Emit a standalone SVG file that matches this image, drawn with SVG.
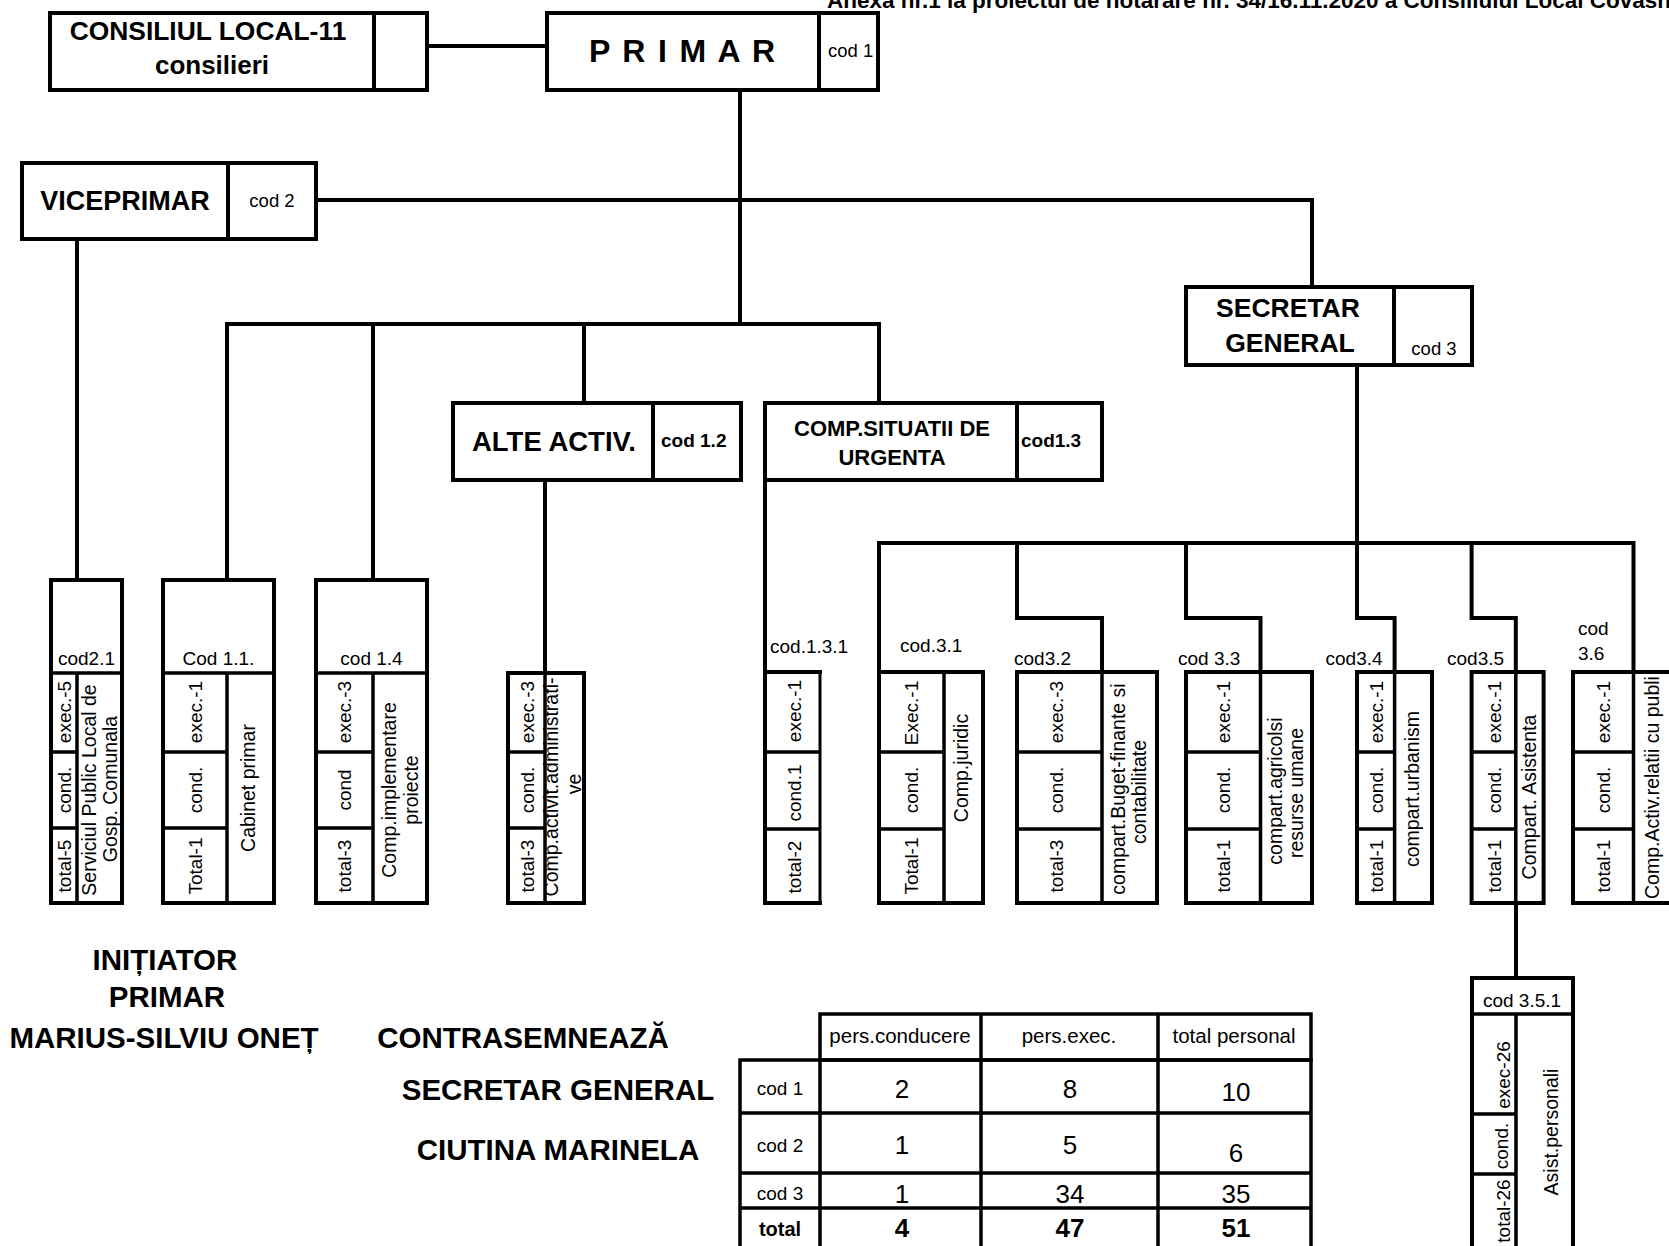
<svg xmlns="http://www.w3.org/2000/svg" width="1669" height="1246" viewBox="0 0 1669 1246">
<style>
.bx{fill:#fff;stroke:#000;stroke-width:4}
.ln{fill:none;stroke:#000;stroke-width:4;stroke-linejoin:miter}
.dv{fill:none;stroke:#000;stroke-width:3.5}
.tb{fill:none;stroke:#000;stroke-width:3.5}
text{font-family:"Liberation Sans",Arial,sans-serif;fill:#000}
.hb{font-weight:bold}
.c{text-anchor:middle}
.s{font-size:19px}
.n{font-size:19.5px}
.k{font-size:18.5px}
.big{font-size:29.5px;font-weight:bold;text-anchor:middle}
</style>
<rect width="1669" height="1246" fill="#fff"/>
<text x="827" y="8" class="hb" style="font-size:22.5px">Anexa nr.1 la proiectul de hotarare nr. 34/16.11.2020 a Consiliului Local Covasna</text>

<g id="connectors">
<path class="ln" d="M427 46H547"/>
<path class="ln" d="M740 90V324"/>
<path class="ln" d="M316 200H1312V287"/>
<path class="ln" d="M227 580V324H879V403"/>
<path class="ln" d="M373 324V580"/>
<path class="ln" d="M584 324V403"/>
<path class="ln" d="M77 239V580"/>
<path class="ln" d="M545 480V673"/>
<path class="ln" d="M765 480V672"/>
<path class="ln" d="M1357 365V543"/>
<path class="ln" d="M879 672V543H1633.5V672"/>
<path class="ln" d="M1017 543V618H1102V672"/>
<path class="ln" d="M1186 543V618H1260.5V672"/>
<path class="ln" d="M1357 543V618H1394.6V672"/>
<path class="ln" d="M1471.6 543V618H1515.8V672"/>
<path class="ln" d="M1516 903V978"/>
</g>

<g id="consiliu">
<rect class="bx" x="50" y="13" width="377" height="77"/>
<path class="ln" d="M374 13V90"/>
<text x="208" y="40" class="hb c" style="font-size:26.4px">CONSILIUL LOCAL-11</text>
<text x="212" y="74" class="hb c" style="font-size:26px">consilieri</text>
</g>

<g id="primar">
<rect class="bx" x="547" y="13" width="331" height="77"/>
<path class="ln" d="M819 13V90"/>
<text x="589" y="62" class="hb" style="font-size:32px" textLength="186" lengthAdjust="spacing">P R I M A R</text>
<text x="828" y="57" class="k">cod 1</text>
</g>

<g id="viceprimar">
<rect class="bx" x="22" y="163" width="294" height="76"/>
<path class="ln" d="M228 163V239"/>
<text x="125" y="210" class="hb c" style="font-size:27px">VICEPRIMAR</text>
<text x="272" y="207" class="k c">cod 2</text>
</g>

<g id="secretar">
<rect class="bx" x="1186" y="287" width="286" height="78"/>
<path class="ln" d="M1394 287V365"/>
<text x="1288" y="317" class="hb c" style="font-size:26.5px">SECRETAR</text>
<text x="1290" y="352" class="hb c" style="font-size:26.5px">GENERAL</text>
<text x="1434" y="355" class="k c">cod 3</text>
</g>

<g id="alte-activ">
<rect class="bx" x="453" y="403" width="288" height="77"/>
<path class="ln" d="M653 403V480"/>
<text x="554" y="451" class="hb c" style="font-size:27.5px">ALTE ACTIV.</text>
<text x="661" y="447" class="hb s">cod 1.2</text>
</g>

<g id="comp-situatii">
<rect class="bx" x="765" y="403" width="337" height="77"/>
<path class="ln" d="M1017 403V480"/>
<text x="892" y="436" class="hb c" style="font-size:22px">COMP.SITUATII DE</text>
<text x="892" y="465" class="hb c" style="font-size:22px">URGENTA</text>
<text x="1021" y="447" class="hb s">cod1.3</text>
</g>

<g id="cod2-1">
<rect class="bx" x="51" y="580" width="71" height="323"/>
<path class="dv" d="M51 673H122M77 673V903M51 752H77M51 828H77"/>
<text x="86.5" y="665" class="s c">cod2.1</text>
<text transform="translate(71,712) rotate(-90)" class="s c">exec.-5</text>
<text transform="translate(71,790) rotate(-90)" class="s c">cond.</text>
<text transform="translate(71,866) rotate(-90)" class="s c">total-5</text>
<text transform="translate(96,790) rotate(-90)" class="n c">Serviciul Public Local de</text>
<text transform="translate(117,789) rotate(-90)" class="n c">Gosp. Comunala</text>
</g>

<g id="cod1-1">
<rect class="bx" x="163" y="580" width="111" height="323"/>
<path class="dv" d="M163 673H274M227 673V903M163 752H227M163 828H227"/>
<text x="218.5" y="665" class="s c">Cod 1.1.</text>
<text transform="translate(202,712) rotate(-90)" class="s c">exec.-1</text>
<text transform="translate(202,790) rotate(-90)" class="s c">cond.</text>
<text transform="translate(202,866) rotate(-90)" class="s c">Total-1</text>
<text transform="translate(255,788) rotate(-90)" class="n c">Cabinet primar</text>
</g>

<g id="cod1-4">
<rect class="bx" x="316" y="580" width="111" height="323"/>
<path class="dv" d="M316 673H427M373 673V903M316 752H373M316 828H373"/>
<text x="371.5" y="665" class="s c">cod 1.4</text>
<text transform="translate(351,712) rotate(-90)" class="s c">exec.-3</text>
<text transform="translate(351,790) rotate(-90)" class="s c">cond</text>
<text transform="translate(351,866) rotate(-90)" class="s c">total-3</text>
<text transform="translate(396,790) rotate(-90)" class="n c">Comp.implementare</text>
<text transform="translate(418,790) rotate(-90)" class="n c">proiecte</text>
</g>

<g id="cod1-2-1">
<rect class="bx" x="508" y="673" width="76" height="230"/>
<path class="dv" d="M545 673V903M508 752H545M508 828H545"/>
<text transform="translate(534,712) rotate(-90)" class="s c">exec.-3</text>
<text transform="translate(534,790) rotate(-90)" class="s c">cond.</text>
<text transform="translate(534,866) rotate(-90)" class="s c">total-3</text>
<text transform="translate(558,787) rotate(-90)" class="n c">Comp.activit.administrati-</text>
<text transform="translate(581,784) rotate(-90)" class="n c">ve</text>
</g>

<g id="cod1-3-1">
<path class="ln" d="M765 672H822M765 672V903H822"/>
<path class="dv" d="M820 672V903" style="stroke-width:3"/>
<path class="dv" d="M765 752H820M765 829H820"/>
<text x="770" y="653" class="s">cod.1.3.1</text>
<text transform="translate(801,711) rotate(-90)" class="s c">exec.-1</text>
<text transform="translate(801,793) rotate(-90)" class="s c">cond.1</text>
<text transform="translate(801,867) rotate(-90)" class="s c">total-2</text>
</g>

<g id="cod3-1">
<rect class="bx" x="879" y="672" width="104" height="231"/>
<path class="dv" d="M944 672V903M879 752H944M879 829H944"/>
<text x="900" y="652" class="s">cod.3.1</text>
<text transform="translate(918,713) rotate(-90)" class="s c">Exec.-1</text>
<text transform="translate(918,790) rotate(-90)" class="s c">cond.</text>
<text transform="translate(918,866) rotate(-90)" class="s c">Total-1</text>
<text transform="translate(968,768) rotate(-90)" class="n c">Comp.juridic</text>
</g>

<g id="cod3-2">
<rect class="bx" x="1017" y="672" width="140" height="231"/>
<path class="dv" d="M1102 672V903M1017 752H1102M1017 829H1102"/>
<text x="1014" y="665" class="s">cod3.2</text>
<text transform="translate(1063,712) rotate(-90)" class="s c">exec.-3</text>
<text transform="translate(1063,790) rotate(-90)" class="s c">cond.</text>
<text transform="translate(1063,866) rotate(-90)" class="s c">total-3</text>
<text transform="translate(1125,789) rotate(-90)" class="n c">compart.Buget-finante si</text>
<text transform="translate(1146,792) rotate(-90)" class="n c">contabilitate</text>
</g>

<g id="cod3-3">
<rect class="bx" x="1186" y="672" width="126" height="231"/>
<path class="dv" d="M1260.5 672V903M1186 752H1260.5M1186 829H1260.5"/>
<text x="1178" y="665" class="s">cod 3.3</text>
<text transform="translate(1230,712) rotate(-90)" class="s c">exec.-1</text>
<text transform="translate(1230,790) rotate(-90)" class="s c">cond.</text>
<text transform="translate(1230,866) rotate(-90)" class="s c">total-1</text>
<text transform="translate(1282,791) rotate(-90)" class="n c">compart.agricolsi</text>
<text transform="translate(1303,793) rotate(-90)" class="n c">resurse umane</text>
</g>

<g id="cod3-4">
<rect class="bx" x="1357" y="672" width="75" height="231"/>
<path class="dv" d="M1394.6 672V903M1357 752H1394.6M1357 829H1394.6"/>
<text x="1325.5" y="665" class="s">cod3.4</text>
<text transform="translate(1383,712) rotate(-90)" class="s c">exec.-1</text>
<text transform="translate(1383,790) rotate(-90)" class="s c">cond.</text>
<text transform="translate(1383,866) rotate(-90)" class="s c">total-1</text>
<text transform="translate(1419,789) rotate(-90)" class="n c">compart.urbanism</text>
</g>

<g id="cod3-5">
<rect class="bx" x="1471.6" y="672" width="72" height="231"/>
<path class="dv" d="M1515.8 672V903M1471.6 752H1515.8M1471.6 829H1515.8"/>
<text x="1447" y="665" class="s">cod3.5</text>
<text transform="translate(1501,712) rotate(-90)" class="s c">exec.-1</text>
<text transform="translate(1501,790) rotate(-90)" class="s c">cond.</text>
<text transform="translate(1501,866) rotate(-90)" class="s c">total-1</text>
<text transform="translate(1536,797) rotate(-90)" class="n c">Compart. Asistenta</text>
</g>

<g id="cod3-6">
<rect class="bx" x="1573" y="672" width="130" height="231"/>
<path class="dv" d="M1633.5 672V903M1573 752H1633.5M1573 829H1633.5"/>
<text x="1578" y="635" class="s">cod</text>
<text x="1578" y="660" class="s">3.6</text>
<text transform="translate(1610,712) rotate(-90)" class="s c">exec.-1</text>
<text transform="translate(1610,790) rotate(-90)" class="s c">cond.</text>
<text transform="translate(1610,866) rotate(-90)" class="s c">total-1</text>
<text transform="translate(1659,899) rotate(-90)" class="n">Comp.Activ.relatii cu publi</text>
</g>

<g id="cod3-5-1">
<rect class="bx" x="1472" y="978" width="101" height="300"/>
<path class="dv" d="M1472 1014H1573M1516 1014V1250M1472 1114H1516M1472 1174H1516"/>
<text x="1522" y="1007" class="s c">cod 3.5.1</text>
<text transform="translate(1510,1075) rotate(-90)" class="s c">exec-26</text>
<text transform="translate(1508,1146) rotate(-90)" class="s c">cond.</text>
<text transform="translate(1510,1211) rotate(-90)" class="s c">total-26</text>
<text transform="translate(1558,1132) rotate(-90)" class="n c">Asist.personali</text>
</g>

<g id="semnaturi">
<text x="165" y="970" class="big">INIȚIATOR</text>
<text x="167" y="1007" class="big">PRIMAR</text>
<text x="164" y="1048" class="big">MARIUS-SILVIU ONEȚ</text>
<text x="523" y="1048" class="big">CONTRASEMNEAZĂ</text>
<text x="558" y="1100" class="big">SECRETAR GENERAL</text>
<text x="558" y="1160" class="big">CIUTINA MARINELA</text>
</g>

<g id="tabel">
<rect class="tb" x="820" y="1014" width="491" height="46"/>
<rect class="tb" x="740" y="1060" width="571" height="200"/>
<path class="tb" d="M981 1014V1260M1158 1014V1260M820 1060V1260M740 1113H1311M740 1173H1311M740 1208H1311"/>
<text x="900" y="1043" class="c" style="font-size:20.5px">pers.conducere</text>
<text x="1069" y="1043" class="c" style="font-size:20.5px">pers.exec.</text>
<text x="1234" y="1043" class="c" style="font-size:20.5px">total personal</text>
<text x="780" y="1095" class="s c">cod 1</text>
<text x="780" y="1152" class="s c">cod 2</text>
<text x="780" y="1200" class="s c">cod 3</text>
<text x="780" y="1236" class="c hb" style="font-size:20px">total</text>
<g style="font-size:26px" class="c">
<text x="902" y="1098">2</text><text x="1070" y="1098">8</text><text x="1236" y="1101">10</text>
<text x="902" y="1154">1</text><text x="1070" y="1154">5</text><text x="1236" y="1162">6</text>
<text x="902" y="1203">1</text><text x="1070" y="1203">34</text><text x="1236" y="1203">35</text>
<text x="902" y="1237" class="hb">4</text><text x="1070" y="1237" class="hb">47</text><text x="1236" y="1237" class="hb">51</text>
</g>
</g>
</svg>
